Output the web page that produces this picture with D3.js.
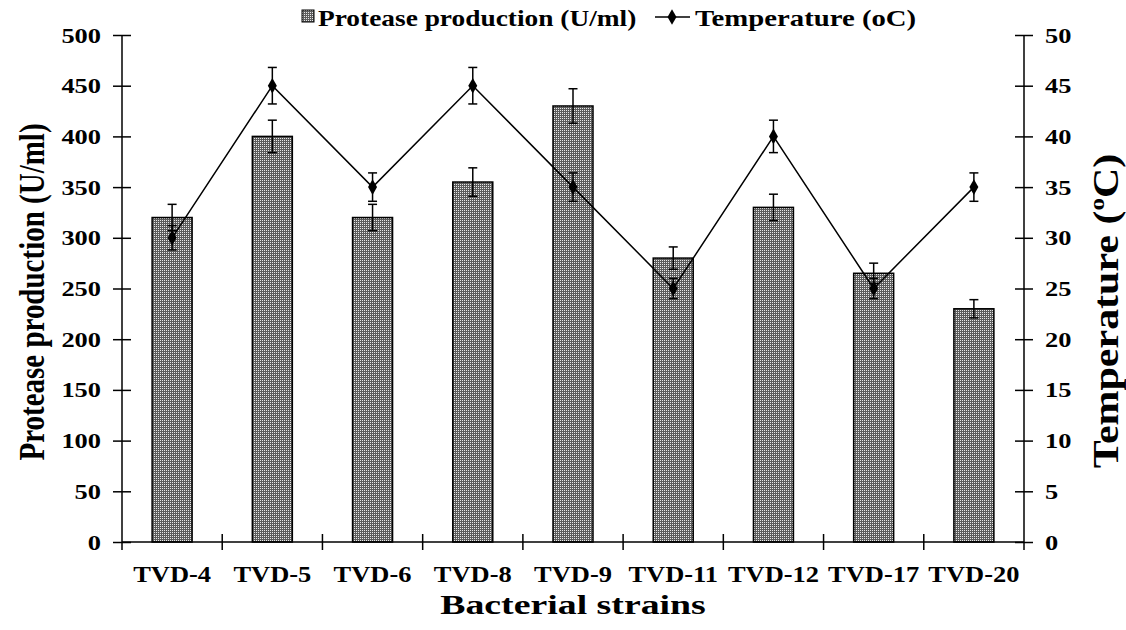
<!DOCTYPE html>
<html><head><meta charset="utf-8">
<script src="https://cdn.jsdelivr.net/npm/d3@7"></script>
<style>body{margin:0;background:#fff}svg{display:block}text{font-family:"Liberation Serif","Times New Roman",serif;font-weight:bold;fill:#000}</style>
</head><body>
<svg id="c" width="1126" height="630"></svg>
<script>
const categories = ["TVD-4","TVD-5","TVD-6","TVD-8","TVD-9","TVD-11","TVD-12","TVD-17","TVD-20"];
const protease = [320,400,320,355,430,280,330,265,230];
const proteaseErr = [13,16,13,14,17,11,13,10,9];
const temperature = [30,45,35,45,35,25,40,25,35];
const temperatureErr = [1.2,1.8,1.4,1.8,1.4,1.0,1.6,1.0,1.4];
const leftTicks = [0,50,100,150,200,250,300,350,400,450,500];
const rightTicks = [0,5,10,15,20,25,30,35,40,45,50];

const svg = d3.select("#c");
const L=122, R=1024, T=35, B=542;
const x = d3.scaleBand().domain(categories).range([L,R]).padding(0);
const yL = d3.scaleLinear().domain([0,500]).range([B,T]);
const yR = d3.scaleLinear().domain([0,50]).range([B,T]);

function stretch(sel,f){ sel.each(function(){ const l=this.getComputedTextLength(); this.setAttribute("textLength", l*f); this.setAttribute("lengthAdjust","spacingAndGlyphs"); }); }

const defs = svg.append("defs");
const pat = defs.append("pattern").attr("id","dots").attr("patternUnits","userSpaceOnUse").attr("width",2).attr("height",2);
pat.append("rect").attr("width",2).attr("height",2).attr("fill","#5c5c5c");
pat.append("rect").attr("width",1).attr("height",1).attr("fill","#e8e8e8");

const bw = 40;
svg.append("g").selectAll("rect").data(categories).join("rect")
  .attr("x", d=>x(d)+x.bandwidth()/2-bw/2)
  .attr("y", (d,i)=>yL(protease[i]))
  .attr("width", bw)
  .attr("height", (d,i)=>yL(0)-yL(protease[i]))
  .attr("fill","url(#dots)").attr("stroke","#000").attr("stroke-width",1.5);

function errBars(vals, errs, y){
  const g = svg.append("g").attr("stroke","#000").attr("stroke-width",1.5);
  categories.forEach((c,i)=>{
    const cx = x(c)+x.bandwidth()/2;
    const y1 = y(vals[i]+errs[i]), y2 = y(vals[i]-errs[i]);
    g.append("line").attr("x1",cx).attr("x2",cx).attr("y1",y1).attr("y2",y2);
    g.append("line").attr("x1",cx-4.5).attr("x2",cx+4.5).attr("y1",y1).attr("y2",y1);
    g.append("line").attr("x1",cx-4.5).attr("x2",cx+4.5).attr("y1",y2).attr("y2",y2);
  });
}
errBars(protease, proteaseErr, yL);

const line = d3.line().x((d,i)=>x(categories[i])+x.bandwidth()/2).y(d=>yR(d));
svg.append("path").datum(temperature).attr("d",line).attr("fill","none").attr("stroke","#000").attr("stroke-width",1.5);
errBars(temperature, temperatureErr, yR);
const diamond = d3.symbol().type(d3.symbolDiamond).size(70);
svg.append("g").selectAll("path").data(temperature).join("path")
  .attr("transform",(d,i)=>`translate(${x(categories[i])+x.bandwidth()/2},${yR(d)})`)
  .attr("d",diamond).attr("fill","#000");

const ga = svg.append("g").attr("transform",`translate(${L},0)`)
  .call(d3.axisLeft(yL).tickValues(leftTicks).tickSize(9).tickPadding(12).tickSizeOuter(0));
ga.attr("font-family",null).attr("font-size",null);
ga.select(".domain").attr("stroke","#000").attr("stroke-width",1.5).attr("d",`M0,${T}V${B+8}`);
ga.selectAll(".tick line").attr("x1",9).attr("stroke-width",1.5);
ga.selectAll(".tick text").attr("font-size",22).call(stretch,1.2);

const gr = svg.append("g").attr("transform",`translate(${R},0)`)
  .call(d3.axisRight(yR).tickValues(rightTicks).tickSize(9).tickPadding(12).tickSizeOuter(0));
gr.attr("font-family",null).attr("font-size",null);
gr.select(".domain").attr("stroke","#000").attr("stroke-width",1.5).attr("d",`M0,${T}V${B+8}`);
gr.selectAll(".tick line").attr("x1",-9).attr("stroke-width",1.5);
gr.selectAll(".tick text").attr("font-size",22).attr("text-anchor","start").call(stretch,1.2);

const gx = svg.append("g").attr("transform",`translate(0,${B})`)
  .call(d3.axisBottom(x).tickSize(0).tickPadding(0));
gx.attr("font-family",null).attr("font-size",null);
gx.select(".domain").attr("stroke","#000").attr("stroke-width",1.5).attr("d",`M${L},0H${R}`);
gx.selectAll(".tick text").attr("font-size",23).attr("dy",null).attr("y",40).call(stretch,1.15);
const bounds = categories.slice(1).map(c=>x(c));
gx.append("g").selectAll("line").data(bounds).join("line")
  .attr("x1",d=>d).attr("x2",d=>d).attr("y1",-8).attr("y2",8).attr("stroke","#000").attr("stroke-width",1.5);

svg.append("text").attr("transform","translate(573,614)").attr("text-anchor","middle").attr("font-size",28).text("Bacterial strains").call(stretch,1.35);
svg.append("text").attr("transform","translate(44,292) scale(1.2,1) rotate(-90)").attr("text-anchor","middle").attr("font-size",29).text("Protease production (U/ml)");
const rt = svg.append("text").attr("transform","translate(1118,311) scale(0.85,1) rotate(-90)").attr("text-anchor","middle").attr("font-size",42);
rt.append("tspan").text("Temperature (");
rt.append("tspan").attr("font-size",25).attr("dy",-17).text("o");
rt.append("tspan").attr("dy",17).text("C)");

const lg = svg.append("g");
lg.append("rect").attr("x",302).attr("y",10).attr("width",12).attr("height",12).attr("fill","url(#dots)").attr("stroke","#000").attr("stroke-width",1);
lg.append("text").attr("x",318).attr("y",26).attr("font-size",23).text("Protease production (U/ml)").call(stretch,1.19);
lg.append("line").attr("x1",655).attr("x2",690).attr("y1",17).attr("y2",17).attr("stroke","#000").attr("stroke-width",1.5);
lg.append("path").attr("transform","translate(672,17)").attr("d",diamond).attr("fill","#000");
lg.append("text").attr("x",695).attr("y",26).attr("font-size",23).text("Temperature (oC)").call(stretch,1.25);
</script>
</body></html>
